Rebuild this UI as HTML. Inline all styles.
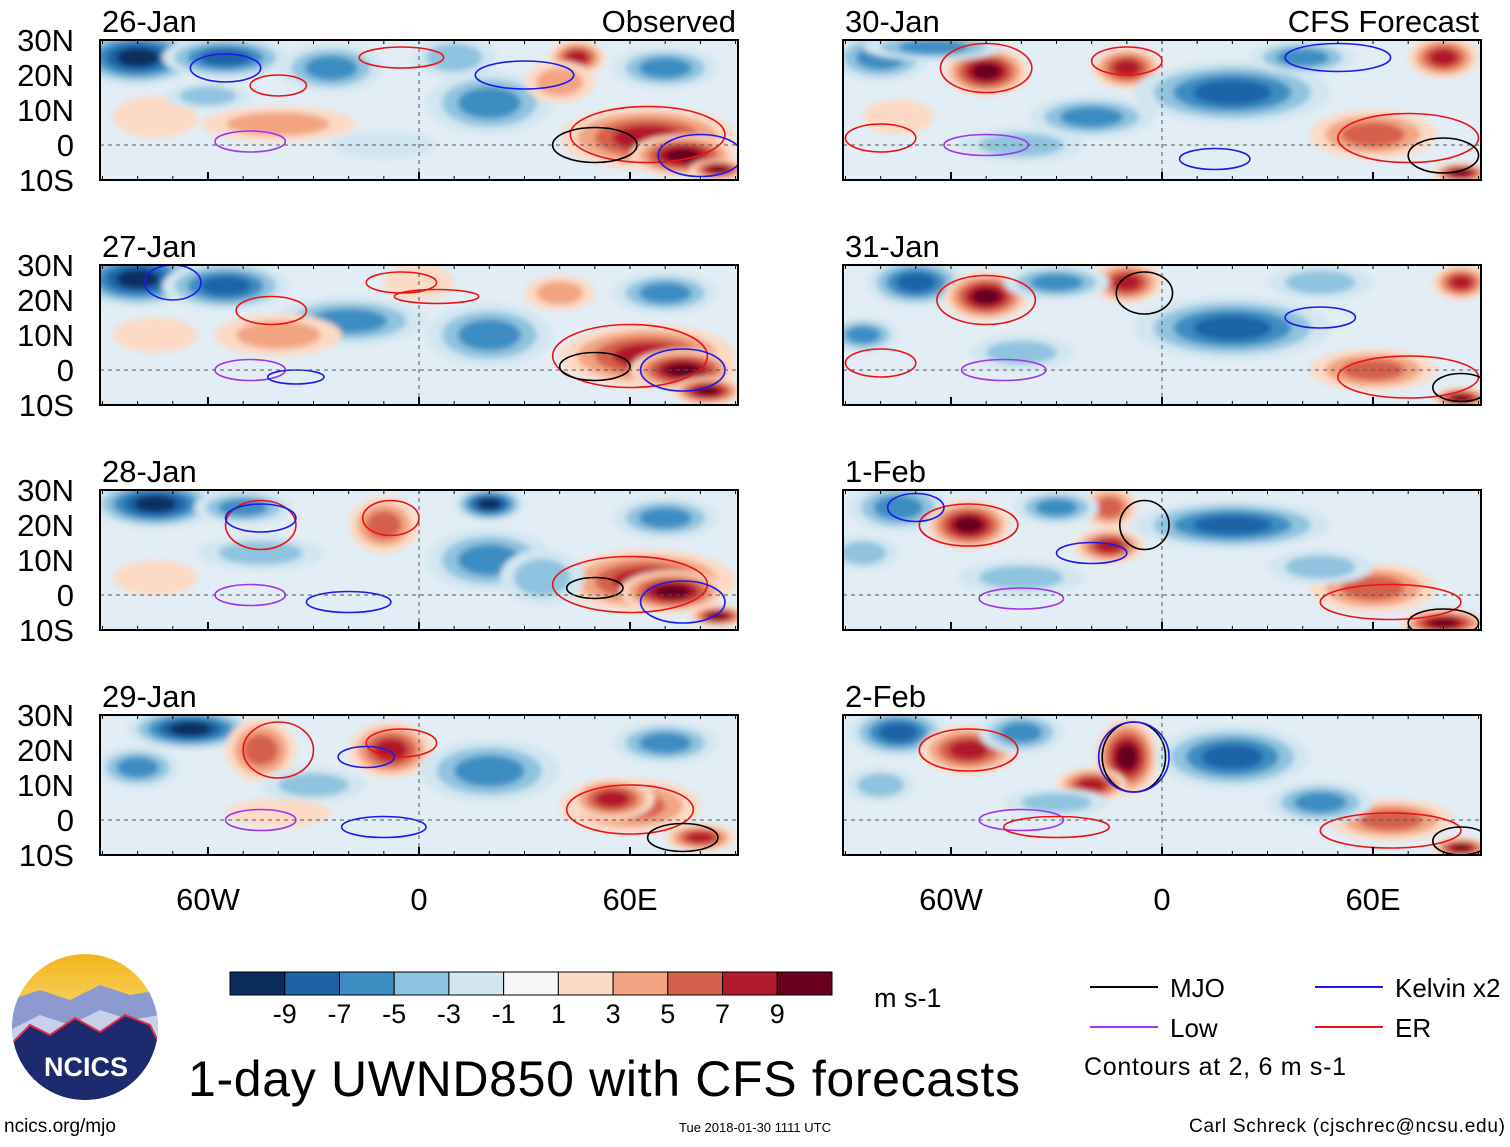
<!DOCTYPE html>
<html><head><meta charset="utf-8">
<style>
html,body{margin:0;padding:0;background:#fff;}
svg text{font-family:"Liberation Sans",sans-serif;}
</style></head>
<body>
<svg id="fig" width="1510" height="1142" viewBox="0 0 1510 1142" xmlns="http://www.w3.org/2000/svg">
<defs>
<filter id="blur" x="-20%" y="-20%" width="140%" height="140%"><feGaussianBlur stdDeviation="3"/></filter>
<linearGradient id="logoSky" x1="0" y1="0" x2="0" y2="1">
<stop offset="0" stop-color="#f2b51c"/><stop offset="0.45" stop-color="#f7d76a"/><stop offset="0.5" stop-color="#3d4e9c"/><stop offset="1" stop-color="#1d2a6e"/></linearGradient>
</defs>
<g id="panels"></g>
<g id="legendArea"></g>
</svg>
<script>
// ---- data ----
const panelLabels = ["26-Jan","27-Jan","28-Jan","29-Jan","30-Jan","31-Jan","1-Feb","2-Feb"];
const latTicks = [30,20,10,0,-10];
const latTickLabels = ["30N","20N","10N","0","10S"];
const lonTicks = [-60,0,60];
const lonTickLabels = ["60W","0","60E"];
const levelColors = ["#0b2d5e","#1f63a7","#3d8dc2","#90c3df","#d2e6f1","#f7f7f7","#fcdac6","#f2a482","#d5604c","#b1192c","#680020"];
const levelLabels = ["-9","-7","-5","-3","-1","1","3","5","7","9"];
// anomaly blobs per panel: [lon, lat, rLon, rLat, level(-5..5)]
const blobs = [
 [[-80,25,18,8,-5],[-55,25,18,6,-4],[-25,22,15,7,-3],[10,25,12,6,-2],[45,25,8,5,4],[20,12,18,9,-3],[-40,6,22,5,2],[-75,8,12,6,1],[65,2,25,9,4],[75,-3,15,6,5],[85,-7,8,3,5],[-60,14,12,4,-2],[40,18,10,6,2],[70,22,15,6,-3],[-10,0,15,4,-1]],
 [[-80,26,18,8,-5],[-55,24,18,7,-4],[-20,14,22,7,-3],[20,10,18,9,-3],[0,25,10,5,1],[65,4,25,9,4],[75,0,15,6,5],[82,-6,10,4,5],[-40,10,18,6,2],[40,22,10,5,2],[70,22,15,6,-3],[-75,10,12,5,1]],
 [[-75,26,18,7,-5],[-50,25,14,5,-3],[-10,20,10,8,3],[20,26,10,5,-5],[20,10,18,9,-3],[65,4,25,9,4],[72,1,15,6,5],[85,-6,8,3,5],[-45,12,18,5,-2],[-75,5,12,5,1],[70,22,15,6,-3],[35,5,12,8,-2]],
 [[-65,26,18,6,-5],[-45,20,10,9,3],[-8,20,12,8,4],[20,14,20,9,-3],[60,4,20,8,3],[55,6,12,6,4],[80,-5,10,4,4],[-80,15,12,6,-3],[-30,10,15,5,-2],[70,22,15,6,-3],[-40,2,15,4,1]],
 [[-80,25,14,7,-3],[-50,21,12,7,5],[-10,22,10,6,4],[-20,8,18,6,-3],[20,15,28,9,-4],[60,3,18,7,3],[85,-8,8,3,5],[80,25,10,6,4],[-40,0,18,5,-2],[-65,28,20,4,-3],[40,25,15,5,-3],[-75,8,10,5,1]],
 [[-70,25,14,7,-4],[-50,21,12,7,5],[-10,25,10,6,4],[20,12,28,9,-4],[60,0,18,6,3],[85,-8,8,3,5],[85,25,8,5,4],[-85,10,10,5,-3],[-30,25,15,5,-3],[45,25,15,5,-2],[-40,5,15,5,-2]],
 [[-75,25,14,7,-3],[-55,20,12,7,5],[-15,14,10,5,4],[-15,25,8,6,3],[20,20,28,7,-4],[60,2,18,7,3],[80,-8,12,4,5],[-40,5,18,5,-2],[-85,12,10,5,-2],[45,8,15,5,-2],[-30,25,12,5,-3]],
 [[-75,25,14,7,-4],[-55,20,14,7,4],[-10,18,9,11,5],[-20,10,10,5,4],[20,18,22,9,-4],[65,0,18,6,3],[85,-8,8,3,5],[-40,25,12,6,-3],[45,5,15,6,-3],[-80,10,10,5,-2],[-30,5,15,4,-2]]
];
// contours per panel: [lon, lat, rLon, rLat, type]  type: 0 MJO,1 Low,2 Kelvin,3 ER
const contours = [
 [[-48,1,10,3,1],[-55,22,10,4,2],[-40,17,8,3,3],[-5,25,12,3,3],[30,20,14,4,2],[65,3,22,8,3],[50,0,12,5,0],[80,-3,12,6,2]],
 [[-48,0,10,3,1],[-35,-2,8,2,2],[-42,17,10,4,3],[-5,25,10,3,3],[5,21,12,2,3],[60,4,22,9,3],[50,1,10,4,0],[75,0,12,6,2],[-70,25,8,5,2]],
 [[-48,0,10,3,1],[-20,-2,12,3,2],[-45,20,10,7,3],[-45,22,10,4,2],[-8,22,8,5,3],[60,3,22,8,3],[50,2,8,3,0],[75,-2,12,6,2]],
 [[-45,0,10,3,1],[-10,-2,12,3,2],[-40,20,10,8,3],[-5,22,10,4,3],[-15,18,8,3,2],[60,3,18,7,3],[75,-5,10,4,0]],
 [[-50,22,13,7,3],[-10,24,10,4,3],[-50,0,12,3,1],[15,-4,10,3,2],[70,2,20,7,3],[80,-3,10,5,0],[-80,2,10,4,3],[50,25,15,4,2]],
 [[-50,20,14,7,3],[-5,22,8,6,0],[-45,0,12,3,1],[70,-2,20,6,3],[85,-5,8,4,0],[-80,2,10,4,3],[45,15,10,3,2]],
 [[-55,20,14,6,3],[-5,20,7,7,0],[-20,12,10,3,2],[-40,-1,12,3,1],[65,-2,20,5,3],[80,-8,10,4,0],[-70,25,8,4,2]],
 [[-55,20,14,6,3],[-8,18,9,10,0],[-8,18,10,10,2],[-40,0,12,3,1],[65,-3,20,5,3],[85,-6,8,4,0],[-30,-2,15,3,3]]
];
const contourColors = ["#000000","#a035f0","#1a1aee","#ee1111"];
const legendNames = ["MJO","Low","Kelvin x2","ER"];

// ---- layout ----
const NS="http://www.w3.org/2000/svg";
const panelX=[100,843], panelW=638, panelH=140, panelY=[40,265,490,715];
function el(tag,attrs,parent){const e=document.createElementNS(NS,tag);for(const k in attrs)e.setAttribute(k,attrs[k]);if(parent)parent.appendChild(e);return e;}
function xScale(x0,lon){return x0+panelW/2+lon*(panelW/181.4);}
function yScale(y0,lat){return y0+(30-lat)*(panelH/40);}
const root=document.getElementById('panels');
for(let p=0;p<8;p++){
  const col=p<4?0:1,row=p%4;const x0=panelX[col],y0=panelY[row];
  const X=lon=>xScale(x0,lon),Y=lat=>yScale(y0,lat);
  const g=el('g',{},root);
  
  
  el('clipPath',{id:'c'+p},g).appendChild(el('rect',{x:x0,y:y0,width:panelW,height:panelH}));
  const inner=el('g',{'clip-path':'url(#c'+p+')'},g);
  el('rect',{x:x0,y:y0,width:panelW,height:panelH,fill:'#e2edf5'},inner);
  const bg=el('g',{filter:'url(#blur)'},inner);
  blobs[p].forEach(b=>{
    const lv=b[4];const n=Math.abs(lv);
    for(let k=1;k<=n;k++){
      const f=1-(k-1)/(n+1);
      const e=el('ellipse',{cx:X(b[0]),cy:Y(b[1]),rx:b[2]*panelW/181.4*f,ry:b[3]*panelH/40*f,fill:levelColors[5+Math.sign(lv)*k]},bg);
      
      
    }
  });
  contours[p].forEach(c=>{
    const e=el('ellipse',{cx:X(c[0]),cy:Y(c[1]),rx:c[2]*panelW/181.4,ry:c[3]*panelH/40,fill:'none',stroke:contourColors[c[4]],'stroke-width':1.6},inner);
    
    
  });
  el('line',{x1:x0,x2:x0+panelW,y1:Y(0),y2:Y(0),stroke:'#555','stroke-dasharray':'4,4','stroke-width':1},inner);
  el('line',{x1:X(0),x2:X(0),y1:y0,y2:y0+panelH,stroke:'#555','stroke-dasharray':'4,4','stroke-width':1},inner);
  const fr=el('rect',{x:x0,y:y0,width:panelW,height:panelH,fill:'none',stroke:'#000','stroke-width':2},g);
  
  for(let lon=-90;lon<=90;lon+=10){el('line',{x1:X(lon),x2:X(lon),y1:y0,y2:y0+4,stroke:'#000'},g);el('line',{x1:X(lon),x2:X(lon),y1:y0+panelH,y2:y0+panelH-4,stroke:'#000'},g);}
  lonTicks.forEach(l=>{el('line',{x1:X(l),x2:X(l),y1:y0+panelH,y2:y0+panelH-8,stroke:'#000','stroke-width':2},g);});
  const t=el('text',{x:x0+2,y:y0-8,'font-size':31},g);t.textContent=panelLabels[p];
  
  if(row===0){const s=el('text',{x:x0+panelW-2,y:y0-8,'font-size':31,'text-anchor':'end'},g);s.textContent=col===0?'Observed':'CFS Forecast';
    }
  if(col===0){latTicks.forEach((lt,i)=>{const a=el('text',{x:74,y:Y(lt)+11,'font-size':31,'text-anchor':'end'},g);a.textContent=latTickLabels[i];
    });}
  if(row===3){lonTicks.forEach((l,i)=>{const a=el('text',{x:X(l),y:910,'font-size':31,'text-anchor':'middle'},g);a.textContent=lonTickLabels[i];
    });}
}
// colorbar
const lg=document.getElementById('legendArea');
const cb=el('g',{},lg);
const cbx=230,cbw=602/11;
levelColors.forEach((c,i)=>{el('rect',{x:cbx+i*cbw,y:972,width:cbw,height:23,fill:c,stroke:'#000','stroke-width':1},cb);});
levelLabels.forEach((l,i)=>{const t=el('text',{x:cbx+(i+1)*cbw,y:1023,'font-size':27,'text-anchor':'middle'},cb);t.textContent=l;
  });
const u=el('text',{x:874,y:1007,'font-size':27},lg);u.textContent='m s-1';
// contour legend
const lpos=[[1090,987],[1090,1027],[1315,987],[1315,1027]];
[0,1,2,3].forEach(i=>{const g=el('g',{},lg);
  el('line',{x1:lpos[i][0],x2:lpos[i][0]+68,y1:lpos[i][1],y2:lpos[i][1],stroke:contourColors[i],'stroke-width':2},g);
  const t=el('text',{x:lpos[i][0]+80,y:lpos[i][1]+10,'font-size':26},g);t.textContent=legendNames[i];});
const ct=el('text',{x:1084,y:1075,'font-size':25,textLength:262},lg);ct.textContent='Contours at 2, 6 m s-1';
const ti=el('text',{x:188,y:1096,'font-size':50,textLength:832},lg);ti.textContent='1-day UWND850 with CFS forecasts';
const f1=el('text',{x:4,y:1132,'font-size':19},lg);f1.textContent='ncics.org/mjo';
const f2=el('text',{x:755,y:1132,'font-size':13,'text-anchor':'middle'},lg);f2.textContent='Tue 2018-01-30 1111 UTC';
const f3=el('text',{x:1505,y:1132,'font-size':19,'text-anchor':'end',textLength:316},lg);f3.textContent='Carl Schreck (cjschrec@ncsu.edu)';
// logo
const lo=el('g',{},lg);
el('clipPath',{id:'logoClip'},lo).appendChild(el('circle',{cx:85,cy:1027,r:73}));
const lc=el('g',{'clip-path':'url(#logoClip)'},lo);
el('circle',{cx:85,cy:1027,r:73,fill:'url(#logoSky)'},lc);
el('path',{d:'M10 1000 L40 990 L70 1000 L100 985 L130 995 L160 990 L160 1030 L10 1035 Z',fill:'#8c9ad0'},lc);
el('path',{d:'M10 1030 L40 1015 L70 1025 L100 1010 L130 1020 L160 1015 L160 1040 L10 1045 Z',fill:'#c9d0ee'},lc);
el('path',{d:'M10 1045 L30 1025 L50 1035 L75 1018 L100 1032 L125 1015 L150 1025 L160 1045 L160 1110 L10 1110 Z',fill:'#1d2a6e',stroke:'#e0304a','stroke-width':2},lc);
const nt=el('text',{x:86,y:1076,'font-size':27,'font-weight':'bold',fill:'#fff','text-anchor':'middle'},lo);nt.textContent='NCICS';
</script>
</body></html>
